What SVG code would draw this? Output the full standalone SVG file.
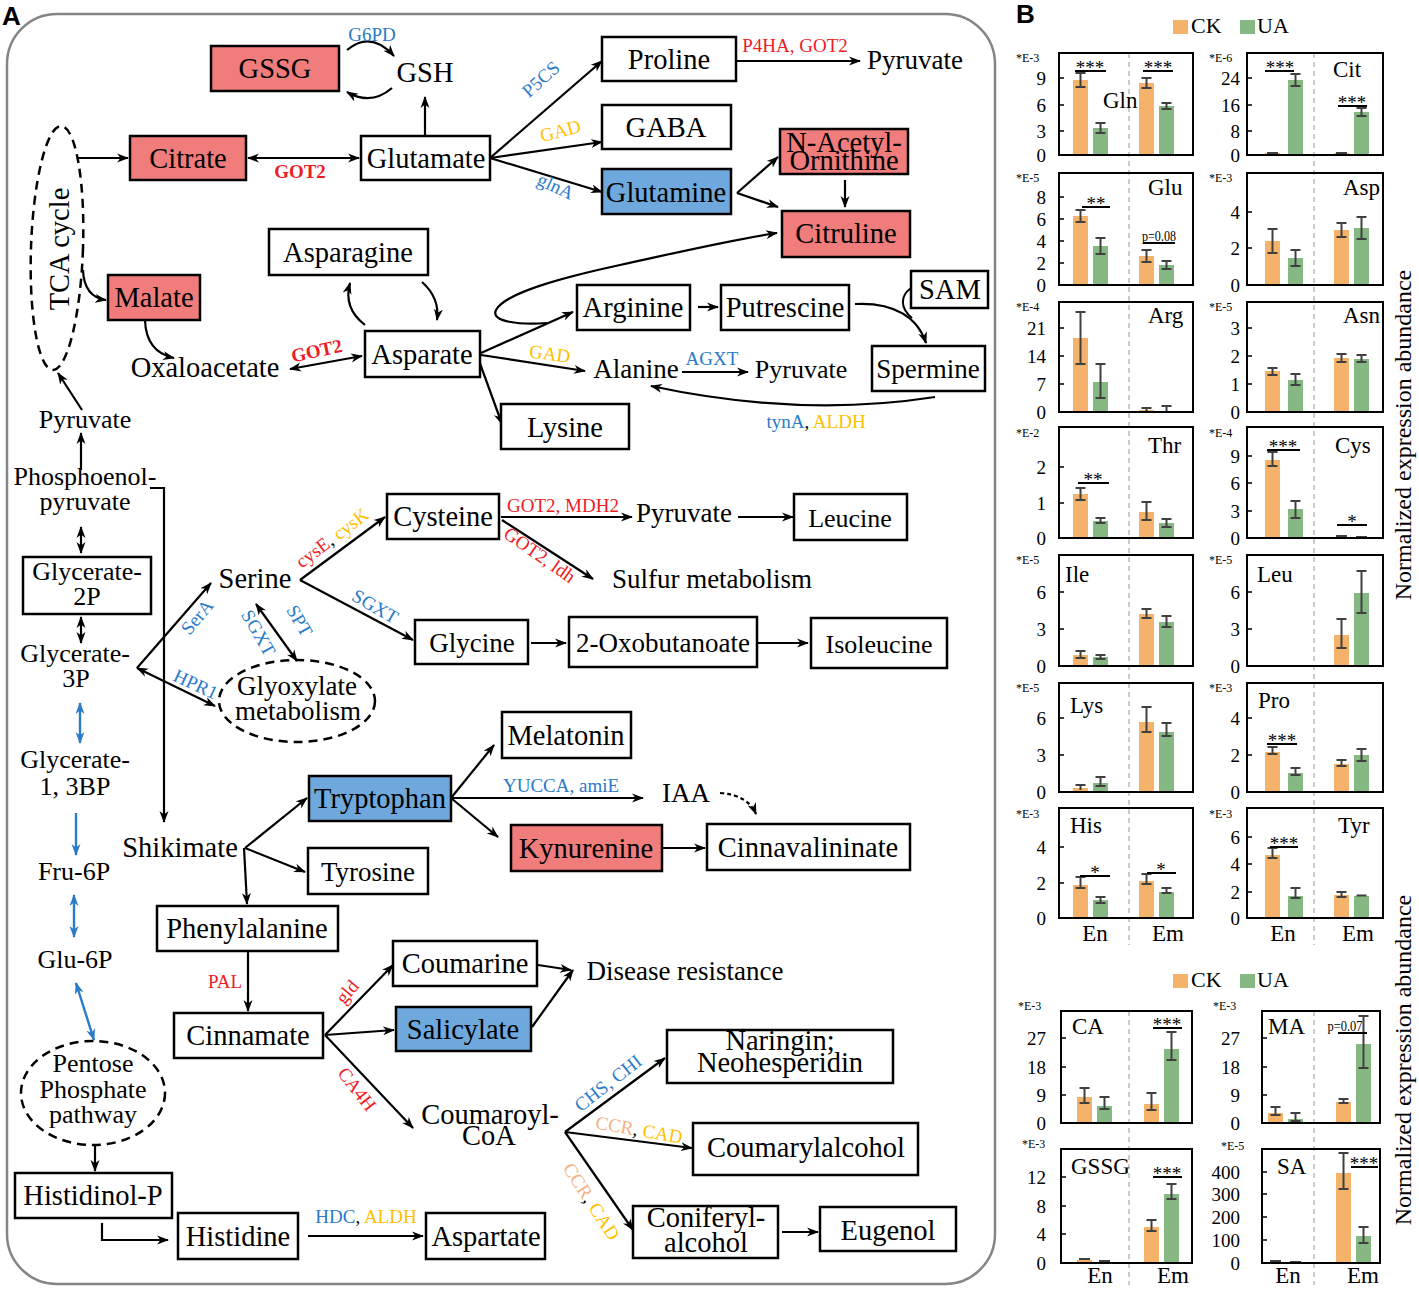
<svg xmlns="http://www.w3.org/2000/svg" width="1419" height="1289" viewBox="0 0 1419 1289">
<style>
text{font-family:"Liberation Serif",serif;fill:#000}
.t{font-size:28.5px;text-anchor:middle}
.m{font-size:27px}
.s{font-size:26px}
.e{font-size:19px;text-anchor:middle}
.n{fill:#fff;stroke:#000;stroke-width:2.5}
.r{fill:#F07C7C;stroke:#000;stroke-width:2.5}
.b{fill:#6FA8DC;stroke:#000;stroke-width:2.5}
.k{fill:none;stroke:#000;stroke-width:2.2;marker-end:url(#a)}
.k2{marker-start:url(#a)}
.kb{fill:none;stroke:#2A7BC8;stroke-width:2.4;marker-end:url(#ab)}
.kb2{marker-start:url(#ab)}
.d{fill:none;stroke:#000;stroke-width:2.5;stroke-dasharray:9 6}
.R{fill:#EE1C25}.B{fill:#2A7BC8}.Y{fill:#FFC000}.O{fill:#F4B183}
.bx{fill:none;stroke:#000;stroke-width:2}
.ck{fill:#F5B26B}.ua{fill:#86B884}
.eb{fill:none;stroke:#404040;stroke-width:2}
.tk{stroke:#000;stroke-width:1.5}
.nb{font-size:19px;text-anchor:end}
.ex{font-size:12px}
.ti{font-size:23px}
.lg{font-size:22px}
.sg{stroke:#000;stroke-width:2}
.st{font-size:19px;text-anchor:middle}
.ax{font-size:23px;text-anchor:middle}
.dv{stroke:#bbb;stroke-width:1.5;stroke-dasharray:5 4}
</style>
<defs>
<marker id="a" viewBox="0 0 12 10" refX="11" refY="5" markerWidth="12" markerHeight="10" markerUnits="userSpaceOnUse" orient="auto-start-reverse"><path d="M0,0.5 L12,5 L0,9.5 L3.5,5 Z" fill="#000"/></marker>
<marker id="ab" viewBox="0 0 12 10" refX="11" refY="5" markerWidth="12" markerHeight="10" markerUnits="userSpaceOnUse" orient="auto-start-reverse"><path d="M0,0.5 L12,5 L0,9.5 L3.5,5 Z" fill="#2A7BC8"/></marker>
</defs>
<rect width="1419" height="1289" fill="#fff"/>
<text x="2" y="25" style="font-family:'Liberation Sans',sans-serif;font-weight:bold;font-size:26px">A</text>
<text x="1016" y="23" style="font-family:'Liberation Sans',sans-serif;font-weight:bold;font-size:26px">B</text>
<rect x="7" y="14" width="988" height="1270" rx="50" fill="none" stroke="#858585" stroke-width="2.5"/>

<g id="connectors">
<path class="k" d="M347,50 Q371,30 394,56"/>
<path class="k" d="M392,88 Q371,106 347,92"/>
<path class="k" d="M425,135 V97"/>
<path class="k k2" d="M248,158 H359"/>
<path class="k" d="M77,158 H128"/>
<path class="k" d="M83,270 Q84,297 106,300"/>
<path class="k" d="M145,320 Q146,352 174,358"/>
<path class="k k2" d="M290,369 L362,356"/>
<path class="k" d="M365,325 Q343,308 350,283"/>
<path class="k" d="M422,282 Q440,298 437,320"/>
<path class="k" d="M82,410 L58,373"/>
<path class="k" d="M81,470 V433"/>
<path class="k" d="M150,488 H164 V822"/>
<path class="k k2" d="M81,527 V553"/>
<path class="k k2" d="M81,617 V643"/>
<path class="kb kb2" d="M80,703 V743"/>
<path class="kb" d="M76,813 V855"/>
<path class="kb kb2" d="M74,895 V937"/>
<path class="kb kb2" d="M76,983 L94,1040"/>
<path class="k" d="M95,1145 V1171"/>
<path class="k" d="M102,1223 V1240 H168"/>
<path class="k" d="M308,1236 H423"/>
<path class="k" d="M137,668 L211,583"/>
<path class="k k2" d="M137,668 L215,706"/>
<path class="k k2" d="M256,604 L297,661"/>
<path class="k" d="M300,580 L385,517"/>
<path class="k" d="M300,580 L413,640"/>
<path class="k" d="M531,643 H566"/>
<path class="k" d="M758,643 H808"/>
<path class="k" d="M501,517 H632"/>
<path class="k" d="M738,517 H793"/>
<path class="k" d="M502,520 L593,579"/>
<path class="k" d="M245,848 L307,798"/>
<path class="k" d="M245,848 L305,872"/>
<path class="k" d="M244,848 L247,904"/>
<path class="k" d="M451,798 L494,745"/>
<path class="k" d="M451,798 H643"/>
<path class="k" d="M451,798 L498,837"/>
<path class="k" style="stroke-dasharray:4 3" d="M720,793 Q748,795 756,814"/>
<path class="k" d="M663,848 H705"/>
<path class="k" d="M248,952 V1011"/>
<path class="k" d="M325,1035 L393,965"/>
<path class="k" d="M325,1035 L394,1030"/>
<path class="k" d="M325,1035 L413,1128"/>
<path class="k" d="M538,965 L571,970"/>
<path class="k" d="M532,1027 L573,970"/>
<path class="k" d="M565,1132 L665,1058"/>
<path class="k" d="M565,1132 L692,1148"/>
<path class="k" d="M565,1132 L633,1230"/>
<path class="k" d="M782,1232 H818"/>
<path class="k" d="M490,158 L602,61"/>
<path class="k" d="M490,158 L602,142"/>
<path class="k" d="M490,158 L602,192"/>
<path class="k" d="M737,61 H860"/>
<path class="k" d="M737,193 L778,157"/>
<path class="k" d="M737,193 L778,207"/>
<path class="k" d="M845,180 V207"/>
<path class="k" d="M547,323 C520,325 490,322 496,310 C505,293 560,278 620,265 C680,252 730,240 777,233"/>
<path class="k" d="M481,353 L573,312"/>
<path class="k" d="M481,355 L585,371"/>
<path class="k" d="M478,358 L502,424"/>
<path class="k" d="M698,307 H718"/>
<path class="k" d="M855,304 C895,302 918,318 926,343"/>
<path fill="none" stroke="#000" stroke-width="2" d="M911,288 C900,296 900,308 912,318"/>
<path class="k" d="M935,397 Q800,418 651,386"/>
<path class="k" d="M682,372 H748"/>
</g>

<g id="labels">
<text class="e B" x="372" y="41">G6PD</text>
<text class="e R" x="300" y="178" style="font-weight:bold">GOT2</text>
<text class="e R" transform="translate(318,357) rotate(-12)" style="font-weight:bold">GOT2</text>
<text class="e B" transform="translate(545,84) rotate(-42)">P5CS</text>
<text class="e Y" transform="translate(562,137) rotate(-15)">GAD</text>
<text class="e B" transform="translate(553,192) rotate(25)">glnA</text>
<text class="e R" x="795" y="52">P4HA, GOT2</text>
<text class="e Y" transform="translate(549,360) rotate(8)">GAD</text>
<text class="e B" x="712" y="365">AGXT</text>
<text class="e" x="816" y="428"><tspan class="B">tynA</tspan>, <tspan class="Y">ALDH</tspan></text>
<text class="e" transform="translate(336,543) rotate(-37)"><tspan class="R">cysE</tspan>, <tspan class="Y">cysK</tspan></text>
<text class="e B" transform="translate(202,621) rotate(-50)">SerA</text>
<text class="e B" transform="translate(193,690) rotate(25)">HPR1</text>
<text class="e B" transform="translate(253,636) rotate(60)">SGXT</text>
<text class="e B" transform="translate(294,624) rotate(60)">SPT</text>
<text class="e B" transform="translate(372,612) rotate(30)">SGXT</text>
<text class="e R" x="563" y="512">GOT2, MDH2</text>
<text class="e R" transform="translate(536,560) rotate(35)">GOT2, ldh</text>
<text class="e B" x="561" y="792">YUCCA, amiE</text>
<text class="e R" x="225" y="988">PAL</text>
<text class="e R" transform="translate(352,996) rotate(-50)">gld</text>
<text class="e R" transform="translate(352,1093) rotate(52)">CA4H</text>
<text class="e" x="366" y="1223"><tspan class="B">HDC</tspan>, <tspan class="Y">ALDH</tspan></text>
<text class="e B" transform="translate(612,1088) rotate(-38)">CHS, CHI</text>
<text class="e" transform="translate(638,1136) rotate(10)"><tspan class="O">CCR</tspan>, <tspan class="Y">CAD</tspan></text>
<text class="e" transform="translate(586,1205) rotate(57)"><tspan class="O">CCR</tspan>, <tspan class="Y">CAD</tspan></text>
</g>

<g id="n-gssg"><rect class="r" x="211" y="46" width="128" height="45"/><text class="t" x="275" y="78">GSSG</text></g>
<g id="n-gsh"><text class="t" x="425" y="82">GSH</text></g>
<g id="n-citrate"><rect class="r" x="130" y="136" width="116" height="44"/><text class="t" x="188" y="168">Citrate</text></g>
<g id="n-glutamate"><rect class="n" x="361" y="136" width="129" height="44"/><text class="t" x="426" y="168">Glutamate</text></g>
<g id="n-tca"><ellipse class="d" cx="57" cy="248" rx="26" ry="122" transform="rotate(2 57 248)"/><text class="t" transform="translate(69,249) rotate(-90)">TCA cycle</text></g>
<g id="n-malate"><rect class="r" x="108" y="275" width="92" height="45"/><text class="t" x="154" y="307">Malate</text></g>
<g id="n-oxaloacetate"><text class="t" x="205" y="377">Oxaloacetate</text></g>
<g id="n-asparagine"><rect class="n" x="269" y="229" width="159" height="46"/><text class="t" x="348" y="262">Asparagine</text></g>
<g id="n-asparate"><rect class="n" x="365" y="331" width="115" height="46"/><text class="t" x="422" y="364">Asparate</text></g>
<g id="n-proline"><rect class="n" x="602" y="37" width="134" height="44"/><text class="t" x="669" y="69">Proline</text></g>
<g id="n-pyruvate1"><text class="t m" x="915" y="69">Pyruvate</text></g>
<g id="n-gaba"><rect class="n" x="602" y="105" width="129" height="44"/><text class="t" x="666" y="137">GABA</text></g>
<g id="n-glutamine"><rect class="b" x="602" y="169" width="129" height="45"/><text class="t" x="666" y="202">Glutamine</text></g>
<g id="n-nacetyl"><rect class="r" x="780" y="129" width="128" height="45"/><text class="t" x="844" y="152">N-Acetyl-</text><text class="t" x="844" y="170">Ornithine</text></g>
<g id="n-citruline"><rect class="r" x="782" y="211" width="128" height="46"/><text class="t" x="846" y="243">Citruline</text></g>
<g id="n-arginine"><rect class="n" x="577" y="285" width="113" height="45"/><text class="t" x="633" y="317">Arginine</text></g>
<g id="n-putrescine"><rect class="n" x="721" y="285" width="128" height="45"/><text class="t" x="785" y="317">Putrescine</text></g>
<g id="n-sam"><rect class="n" x="911" y="271" width="77" height="37"/><text class="t" x="950" y="299">SAM</text></g>
<g id="n-spermine"><rect class="n" x="872" y="346" width="113" height="45"/><text class="t m" x="928" y="378">Spermine</text></g>
<g id="n-alanine"><text class="t m" x="636" y="378">Alanine</text></g>
<g id="n-pyruvate2"><text class="t s" x="801" y="378">Pyruvate</text></g>
<g id="n-lysine"><rect class="n" x="501" y="404" width="128" height="45"/><text class="t" x="565" y="437">Lysine</text></g>
<g id="n-pyruvate0"><text class="t s" x="85" y="428">Pyruvate</text></g>
<g id="n-pep"><text class="t s" x="85" y="485">Phosphoenol-</text><text class="t s" x="85" y="510">pyruvate</text></g>
<g id="n-g2p"><rect class="n" x="23" y="557" width="128" height="57"/><text class="t s" x="87" y="580">Glycerate-</text><text class="t s" x="87" y="605">2P</text></g>
<g id="n-g3p"><text class="t s" x="75" y="662">Glycerate-</text><text class="t s" x="76" y="687">3P</text></g>
<g id="n-g13bp"><text class="t s" x="75" y="768">Glycerate-</text><text class="t s" x="75" y="795">1, 3BP</text></g>
<g id="n-fru6p"><text class="t s" x="74" y="880">Fru-6P</text></g>
<g id="n-glu6p"><text class="t s" x="75" y="968">Glu-6P</text></g>
<g id="n-pentose"><ellipse class="d" cx="93" cy="1093" rx="72" ry="52"/><text class="t s" x="93" y="1072">Pentose</text><text class="t s" x="93" y="1098">Phosphate</text><text class="t s" x="93" y="1123">pathway</text></g>
<g id="n-histidinolp"><rect class="n" x="15" y="1173" width="157" height="45"/><text class="t" x="93" y="1205">Histidinol-P</text></g>
<g id="n-histidine"><rect class="n" x="178" y="1213" width="120" height="46"/><text class="t" x="238" y="1246">Histidine</text></g>
<g id="n-aspartate"><rect class="n" x="426" y="1213" width="119" height="46"/><text class="t" x="486" y="1246">Aspartate</text></g>
<g id="n-serine"><text class="t" x="255" y="588">Serine</text></g>
<g id="n-glyoxylate"><ellipse class="d" cx="297" cy="701" rx="78" ry="41"/><text class="t m" x="297" y="695">Glyoxylate</text><text class="t m" x="298" y="720">metabolism</text></g>
<g id="n-cysteine"><rect class="n" x="387" y="494" width="112" height="45"/><text class="t" x="443" y="526">Cysteine</text></g>
<g id="n-pyruvate3"><text class="t m" x="684" y="522">Pyruvate</text></g>
<g id="n-leucine"><rect class="n" x="794" y="494" width="113" height="46"/><text class="t s" x="850" y="527">Leucine</text></g>
<g id="n-sulfur"><text class="t m" x="712" y="588">Sulfur metabolism</text></g>
<g id="n-glycine"><rect class="n" x="415" y="620" width="113" height="44"/><text class="t m" x="472" y="652">Glycine</text></g>
<g id="n-oxobutanoate"><rect class="n" x="569" y="617" width="188" height="50"/><text class="t m" x="663" y="652">2-Oxobutanoate</text></g>
<g id="n-isoleucine"><rect class="n" x="811" y="618" width="136" height="50"/><text class="t s" x="879" y="653">Isoleucine</text></g>
<g id="n-shikimate"><text class="t" x="180" y="857">Shikimate</text></g>
<g id="n-melatonin"><rect class="n" x="502" y="712" width="129" height="46"/><text class="t" x="566" y="745">Melatonin</text></g>
<g id="n-tryptophan"><rect class="b" x="309" y="776" width="142" height="45"/><text class="t" x="380" y="808">Tryptophan</text></g>
<g id="n-iaa"><text class="t m" x="686" y="802">IAA</text></g>
<g id="n-kynurenine"><rect class="r" x="511" y="825" width="151" height="46"/><text class="t" x="586" y="858">Kynurenine</text></g>
<g id="n-cinnavalininate"><rect class="n" x="707" y="824" width="203" height="46"/><text class="t" x="808" y="857">Cinnavalininate</text></g>
<g id="n-tyrosine"><rect class="n" x="308" y="848" width="120" height="46"/><text class="t m" x="368" y="881">Tyrosine</text></g>
<g id="n-phenylalanine"><rect class="n" x="157" y="906" width="181" height="45"/><text class="t" x="247" y="938">Phenylalanine</text></g>
<g id="n-cinnamate"><rect class="n" x="174" y="1013" width="149" height="45"/><text class="t" x="248" y="1045">Cinnamate</text></g>
<g id="n-coumarine"><rect class="n" x="393" y="941" width="144" height="45"/><text class="t" x="465" y="973">Coumarine</text></g>
<g id="n-salicylate"><rect class="b" x="396" y="1007" width="135" height="44"/><text class="t" x="463" y="1039">Salicylate</text></g>
<g id="n-disease"><text class="t m" x="685" y="980">Disease resistance</text></g>
<g id="n-coumaroyl"><text class="t" x="490" y="1124">Coumaroyl-</text><text class="t" x="489" y="1145">CoA</text></g>
<g id="n-naringin"><rect class="n" x="667" y="1030" width="226" height="53"/><text class="t" x="780" y="1050">Naringin;</text><text class="t" x="780" y="1072">Neohesperidin</text></g>
<g id="n-coumarylalcohol"><rect class="n" x="693" y="1123" width="225" height="52"/><text class="t" x="806" y="1157">Coumarylalcohol</text></g>
<g id="n-coniferyl"><rect class="n" x="633" y="1206" width="145" height="52"/><text class="t" x="706" y="1227">Coniferyl-</text><text class="t" x="706" y="1252">alcohol</text></g>
<g id="n-eugenol"><rect class="n" x="820" y="1207" width="136" height="44"/><text class="t" x="888" y="1240">Eugenol</text></g>

<g id="panel-b">
<g id="legend1"><rect class="ck" x="1173" y="20" width="15" height="14"/><text class="lg" x="1191" y="33">CK</text><rect class="ua" x="1240" y="20" width="15" height="14"/><text class="lg" x="1257" y="33">UA</text></g>
<g id="legend2"><rect class="ck" x="1173" y="974" width="15" height="14"/><text class="lg" x="1191" y="987">CK</text><rect class="ua" x="1240" y="974" width="15" height="14"/><text class="lg" x="1257" y="987">UA</text></g>
<line class="dv" x1="1129" y1="53" x2="1129" y2="945"/>
<line class="dv" x1="1314" y1="53" x2="1314" y2="945"/>
<line class="dv" x1="1129" y1="1011" x2="1129" y2="1285"/>
<line class="dv" x1="1314" y1="1011" x2="1314" y2="1285"/>
<text style="font-size:24px;text-anchor:middle" transform="translate(1411,435) rotate(-90)">Normalized expression abundance</text>
<text style="font-size:24px;text-anchor:middle" transform="translate(1411,1060) rotate(-90)">Normalized expression abundance</text>

<g id="c-gln">
<rect class="ck" x="1073" y="80" width="15" height="75"/><rect class="ua" x="1093" y="128" width="15" height="27"/><rect class="ck" x="1139" y="83" width="15" height="72"/><rect class="ua" x="1159" y="106" width="15" height="49"/>
<path class="eb" d="M1080.5,73V87M1075.5,73h10M1075.5,87h10M1100.5,123V133M1095.5,123h10M1095.5,133h10M1146.5,78V88M1141.5,78h10M1141.5,88h10M1166.5,103V109M1161.5,103h10M1161.5,109h10"/>
<rect class="bx" x="1059" y="53" width="134" height="102"/>
<path class="tk" d="M1059,78h5M1059,105h5M1059,131h5"/>
<text class="nb" x="1046" y="85">9</text><text class="nb" x="1046" y="112">6</text><text class="nb" x="1046" y="138">3</text><text class="nb" x="1046" y="162">0</text>
<text class="ex" x="1016" y="62">*E-3</text><text class="ti" x="1103" y="108">Gln</text>
<path class="sg" d="M1075,71H1106M1143,71H1173"/><text class="st" x="1090" y="74">***</text><text class="st" x="1158" y="74">***</text>
</g>
<g id="c-cit">
<rect class="ck" x="1265" y="153" width="15" height="2"/><rect class="ua" x="1288" y="80" width="15" height="75"/><rect class="ck" x="1334" y="153" width="15" height="2"/><rect class="ua" x="1354" y="112" width="15" height="43"/>
<path class="eb" d="M1267,153h11M1336,153h11M1295.5,74V86M1290.5,74h10M1290.5,86h10M1361.5,108V116M1356.5,108h10M1356.5,116h10"/>
<rect class="bx" x="1247" y="53" width="136" height="102"/>
<path class="tk" d="M1247,78h5M1247,105h5M1247,131h5"/>
<text class="nb" x="1240" y="85">24</text><text class="nb" x="1240" y="112">16</text><text class="nb" x="1240" y="138">8</text><text class="nb" x="1240" y="162">0</text>
<text class="ex" x="1209" y="62">*E-6</text><text class="ti" x="1333" y="77">Cit</text>
<path class="sg" d="M1265,71H1294M1338,106H1367"/><text class="st" x="1280" y="74">***</text><text class="st" x="1352" y="109">***</text>
</g>
<g id="c-glu">
<rect class="ck" x="1073" y="216" width="15" height="69"/><rect class="ua" x="1093" y="246" width="15" height="39"/><rect class="ck" x="1139" y="256" width="15" height="29"/><rect class="ua" x="1159" y="265" width="15" height="20"/>
<path class="eb" d="M1080.5,210V222M1075.5,210h10M1075.5,222h10M1100.5,238V254M1095.5,238h10M1095.5,254h10M1146.5,250V262M1141.5,250h10M1141.5,262h10M1166.5,261V269M1161.5,261h10M1161.5,269h10"/>
<rect class="bx" x="1059" y="173" width="134" height="112"/>
<path class="tk" d="M1059,197h5M1059,219h5M1059,241h5M1059,263h5"/>
<text class="nb" x="1046" y="204">8</text><text class="nb" x="1046" y="226">6</text><text class="nb" x="1046" y="248">4</text><text class="nb" x="1046" y="270">2</text><text class="nb" x="1046" y="292">0</text>
<text class="ex" x="1016" y="182">*E-5</text><text class="ti" x="1148" y="195">Glu</text>
<path class="sg" d="M1082,207H1110M1143,243H1175"/><text class="st" x="1096" y="210">**</text>
<text x="1159" y="241" style="font-size:15px;text-anchor:middle" textLength="34" lengthAdjust="spacingAndGlyphs">p=0.08</text>
</g>
<g id="c-asp">
<rect class="ck" x="1265" y="241" width="15" height="44"/><rect class="ua" x="1288" y="258" width="15" height="27"/><rect class="ck" x="1334" y="230" width="15" height="55"/><rect class="ua" x="1354" y="228" width="15" height="57"/>
<path class="eb" d="M1272.5,229V253M1267.5,229h10M1267.5,253h10M1295.5,250V266M1290.5,250h10M1290.5,266h10M1341.5,223V237M1336.5,223h10M1336.5,237h10M1361.5,217V239M1356.5,217h10M1356.5,239h10"/>
<rect class="bx" x="1247" y="173" width="136" height="112"/>
<path class="tk" d="M1247,212h5M1247,248h5"/>
<text class="nb" x="1240" y="219">4</text><text class="nb" x="1240" y="255">2</text><text class="nb" x="1240" y="292">0</text>
<text class="ex" x="1209" y="182">*E-3</text><text class="ti" x="1343" y="195">Asp</text>
</g>
<g id="c-arg">
<rect class="ck" x="1073" y="338" width="15" height="74"/><rect class="ua" x="1093" y="382" width="15" height="30"/><rect class="ck" x="1139" y="410" width="15" height="2"/><rect class="ua" x="1159" y="411" width="15" height="1"/>
<path class="eb" d="M1080.5,312V364M1075.5,312h10M1075.5,364h10M1100.5,364V398M1095.5,364h10M1095.5,398h10M1146.5,408V412M1141.5,408h10M1166.5,406V412M1161.5,406h10"/>
<rect class="bx" x="1059" y="302" width="134" height="110"/>
<path class="tk" d="M1059,328h5M1059,356h5M1059,384h5"/>
<text class="nb" x="1046" y="335">21</text><text class="nb" x="1046" y="363">14</text><text class="nb" x="1046" y="391">7</text><text class="nb" x="1046" y="419">0</text>
<text class="ex" x="1016" y="311">*E-4</text><text class="ti" x="1148" y="323">Arg</text>
</g>
<g id="c-asn">
<rect class="ck" x="1265" y="371" width="15" height="41"/><rect class="ua" x="1288" y="380" width="15" height="32"/><rect class="ck" x="1334" y="358" width="15" height="54"/><rect class="ua" x="1354" y="359" width="15" height="53"/>
<path class="eb" d="M1272.5,368V375M1267.5,368h10M1267.5,375h10M1295.5,374V385M1290.5,374h10M1290.5,385h10M1341.5,354V362M1336.5,354h10M1336.5,362h10M1361.5,355V362M1356.5,355h10M1356.5,362h10"/>
<rect class="bx" x="1247" y="302" width="136" height="110"/>
<path class="tk" d="M1247,328h5M1247,356h5M1247,384h5"/>
<text class="nb" x="1240" y="335">3</text><text class="nb" x="1240" y="363">2</text><text class="nb" x="1240" y="391">1</text><text class="nb" x="1240" y="419">0</text>
<text class="ex" x="1209" y="311">*E-5</text><text class="ti" x="1343" y="323">Asn</text>
</g>
<g id="c-thr">
<rect class="ck" x="1073" y="494" width="15" height="44"/><rect class="ua" x="1093" y="521" width="15" height="17"/><rect class="ck" x="1139" y="512" width="15" height="26"/><rect class="ua" x="1159" y="523" width="15" height="15"/>
<path class="eb" d="M1080.5,488V500M1075.5,488h10M1075.5,500h10M1100.5,518V523M1095.5,518h10M1095.5,523h10M1146.5,502V520M1141.5,502h10M1141.5,520h10M1166.5,519V527M1161.5,519h10M1161.5,527h10"/>
<rect class="bx" x="1059" y="427" width="134" height="111"/>
<path class="tk" d="M1059,467h5M1059,503h5"/>
<text class="nb" x="1046" y="474">2</text><text class="nb" x="1046" y="510">1</text><text class="nb" x="1046" y="545">0</text>
<text class="ex" x="1016" y="437">*E-2</text><text class="ti" x="1148" y="453">Thr</text>
<path class="sg" d="M1078,483H1109"/><text class="st" x="1093" y="486">**</text>
</g>
<g id="c-cys">
<rect class="ck" x="1265" y="460" width="15" height="78"/><rect class="ua" x="1288" y="509" width="15" height="29"/>
<path class="eb" d="M1272.5,452V466M1267.5,452h10M1267.5,466h10M1295.5,501V518M1290.5,501h10M1290.5,518h10M1336,536h11M1356,537h11"/>
<rect class="bx" x="1247" y="427" width="136" height="111"/>
<path class="tk" d="M1247,456h5M1247,483h5M1247,511h5"/>
<text class="nb" x="1240" y="463">9</text><text class="nb" x="1240" y="490">6</text><text class="nb" x="1240" y="518">3</text><text class="nb" x="1240" y="545">0</text>
<text class="ex" x="1209" y="437">*E-4</text><text class="ti" x="1335" y="453">Cys</text>
<path class="sg" d="M1267,450H1300M1337,525H1367"/><text class="st" x="1283" y="453">***</text><text class="st" x="1352" y="528">*</text>
</g>
<g id="c-ile">
<rect class="ck" x="1073" y="655" width="15" height="11"/><rect class="ua" x="1093" y="657" width="15" height="9"/><rect class="ck" x="1139" y="614" width="15" height="52"/><rect class="ua" x="1159" y="622" width="15" height="44"/>
<path class="eb" d="M1080.5,651V658M1075.5,651h10M1075.5,658h10M1100.5,655V659M1095.5,655h10M1095.5,659h10M1146.5,609V618M1141.5,609h10M1141.5,618h10M1166.5,616V627M1161.5,616h10M1161.5,627h10"/>
<rect class="bx" x="1059" y="555" width="134" height="111"/>
<path class="tk" d="M1059,592h5M1059,629h5"/>
<text class="nb" x="1046" y="599">6</text><text class="nb" x="1046" y="636">3</text><text class="nb" x="1046" y="673">0</text>
<text class="ex" x="1016" y="564">*E-5</text><text class="ti" x="1065" y="582">Ile</text>
</g>
<g id="c-leu">
<rect class="ck" x="1334" y="635" width="15" height="31"/><rect class="ua" x="1354" y="593" width="15" height="73"/>
<path class="eb" d="M1341.5,619V648M1336.5,619h10M1336.5,648h10M1361.5,571V613M1356.5,571h10M1356.5,613h10"/>
<rect class="bx" x="1247" y="555" width="136" height="111"/>
<path class="tk" d="M1247,592h5M1247,629h5"/>
<text class="nb" x="1240" y="599">6</text><text class="nb" x="1240" y="636">3</text><text class="nb" x="1240" y="673">0</text>
<text class="ex" x="1209" y="564">*E-5</text><text class="ti" x="1257" y="582">Leu</text>
</g>
<g id="c-lys">
<rect class="ck" x="1073" y="788" width="15" height="4"/><rect class="ua" x="1093" y="783" width="15" height="9"/><rect class="ck" x="1139" y="722" width="15" height="70"/><rect class="ua" x="1159" y="732" width="15" height="60"/>
<path class="eb" d="M1080.5,785V790M1075.5,785h10M1100.5,777V786M1095.5,777h10M1095.5,786h10M1146.5,707V732M1141.5,707h10M1141.5,732h10M1166.5,723V736M1161.5,723h10M1161.5,736h10"/>
<rect class="bx" x="1059" y="683" width="134" height="109"/>
<path class="tk" d="M1059,718h5M1059,755h5"/>
<text class="nb" x="1046" y="725">6</text><text class="nb" x="1046" y="762">3</text><text class="nb" x="1046" y="799">0</text>
<text class="ex" x="1016" y="692">*E-5</text><text class="ti" x="1070" y="713">Lys</text>
</g>
<g id="c-pro">
<rect class="ck" x="1265" y="752" width="15" height="40"/><rect class="ua" x="1288" y="773" width="15" height="19"/><rect class="ck" x="1334" y="764" width="15" height="28"/><rect class="ua" x="1354" y="755" width="15" height="37"/>
<path class="eb" d="M1272.5,747V754M1267.5,747h10M1267.5,754h10M1295.5,768V775M1290.5,768h10M1290.5,775h10M1341.5,760V766M1336.5,760h10M1336.5,766h10M1361.5,749V761M1356.5,749h10M1356.5,761h10"/>
<rect class="bx" x="1247" y="683" width="136" height="109"/>
<path class="tk" d="M1247,718h5M1247,755h5"/>
<text class="nb" x="1240" y="725">4</text><text class="nb" x="1240" y="762">2</text><text class="nb" x="1240" y="799">0</text>
<text class="ex" x="1209" y="692">*E-3</text><text class="ti" x="1258" y="708">Pro</text>
<path class="sg" d="M1267,744H1297"/><text class="st" x="1282" y="747">***</text>
</g>
<g id="c-his">
<rect class="ck" x="1073" y="885" width="15" height="33"/><rect class="ua" x="1093" y="900" width="15" height="18"/><rect class="ck" x="1139" y="881" width="15" height="37"/><rect class="ua" x="1159" y="892" width="15" height="26"/>
<path class="eb" d="M1080.5,877V888M1075.5,877h10M1075.5,888h10M1100.5,897V903M1095.5,897h10M1095.5,903h10M1146.5,874V884M1141.5,874h10M1141.5,884h10M1166.5,888V893M1161.5,888h10M1161.5,893h10"/>
<rect class="bx" x="1059" y="808" width="134" height="110"/>
<path class="tk" d="M1059,847h5M1059,883h5"/>
<text class="nb" x="1046" y="854">4</text><text class="nb" x="1046" y="890">2</text><text class="nb" x="1046" y="925">0</text>
<text class="ex" x="1016" y="818">*E-3</text><text class="ti" x="1070" y="833">His</text>
<path class="sg" d="M1080,876H1110M1147,873H1176"/><text class="st" x="1095" y="879">*</text><text class="st" x="1161" y="876">*</text>
<text class="ax" x="1095" y="941">En</text><text class="ax" x="1168" y="941">Em</text>
</g>
<g id="c-tyr">
<rect class="ck" x="1265" y="855" width="15" height="63"/><rect class="ua" x="1288" y="896" width="15" height="22"/><rect class="ck" x="1334" y="895" width="15" height="23"/><rect class="ua" x="1354" y="896" width="15" height="22"/>
<path class="eb" d="M1272.5,848V858M1267.5,848h10M1267.5,858h10M1295.5,888V898M1290.5,888h10M1290.5,898h10M1341.5,892V897M1336.5,892h10M1336.5,897h10M1356.5,895.5h10"/>
<rect class="bx" x="1247" y="808" width="136" height="110"/>
<path class="tk" d="M1247,837h5M1247,864h5M1247,892h5"/>
<text class="nb" x="1240" y="844">6</text><text class="nb" x="1240" y="871">4</text><text class="nb" x="1240" y="899">2</text><text class="nb" x="1240" y="925">0</text>
<text class="ex" x="1209" y="818">*E-3</text><text class="ti" x="1338" y="833">Tyr</text>
<path class="sg" d="M1270,847H1298"/><text class="st" x="1284" y="850">***</text>
<text class="ax" x="1283" y="941">En</text><text class="ax" x="1358" y="941">Em</text>
</g>
<g id="c-ca">
<rect class="ck" x="1077" y="1097" width="15" height="26"/><rect class="ua" x="1097" y="1106" width="15" height="17"/><rect class="ck" x="1144" y="1104" width="15" height="19"/><rect class="ua" x="1164" y="1049" width="15" height="74"/>
<path class="eb" d="M1084.5,1088V1103M1079.5,1088h10M1079.5,1103h10M1104.5,1097V1109M1099.5,1097h10M1099.5,1109h10M1151.5,1093V1110M1146.5,1093h10M1146.5,1110h10M1171.5,1032V1060M1166.5,1032h10M1166.5,1060h10"/>
<rect class="bx" x="1061" y="1011" width="131" height="112"/>
<path class="tk" d="M1061,1038h5M1061,1067h5M1061,1095h5"/>
<text class="nb" x="1046" y="1045">27</text><text class="nb" x="1046" y="1074">18</text><text class="nb" x="1046" y="1102">9</text><text class="nb" x="1046" y="1130">0</text>
<text class="ex" x="1018" y="1010">*E-3</text><text class="ti" x="1072" y="1034">CA</text>
<path class="sg" d="M1153,1028H1182"/><text class="st" x="1167" y="1031">***</text>
</g>
<g id="c-ma">
<rect class="ck" x="1268" y="1113" width="15" height="10"/><rect class="ua" x="1288" y="1119" width="15" height="4"/><rect class="ck" x="1336" y="1102" width="15" height="21"/><rect class="ua" x="1356" y="1044" width="15" height="79"/>
<path class="eb" d="M1275.5,1107V1115M1270.5,1107h10M1270.5,1115h10M1295.5,1113V1121M1290.5,1113h10M1290.5,1121h10M1343.5,1099V1103M1338.5,1099h10M1338.5,1103h10M1363.5,1016V1068M1358.5,1016h10M1358.5,1068h10"/>
<rect class="bx" x="1262" y="1011" width="118" height="112"/>
<path class="tk" d="M1262,1038h5M1262,1067h5M1262,1095h5"/>
<text class="nb" x="1240" y="1045">27</text><text class="nb" x="1240" y="1074">18</text><text class="nb" x="1240" y="1102">9</text><text class="nb" x="1240" y="1130">0</text>
<text class="ex" x="1213" y="1010">*E-3</text><text class="ti" x="1268" y="1034">MA</text>
<path class="sg" d="M1338,1033H1367"/><text x="1345" y="1031" style="font-size:15px;text-anchor:middle" textLength="35" lengthAdjust="spacingAndGlyphs">p=0.07</text>
</g>
<g id="c-gssg">
<rect class="ck" x="1077" y="1260" width="15" height="3"/><rect class="ck" x="1144" y="1227" width="15" height="36"/><rect class="ua" x="1164" y="1194" width="15" height="69"/>
<path class="eb" d="M1079,1259h11M1099,1261h11M1151.5,1220V1231M1146.5,1220h10M1146.5,1231h10M1171.5,1184V1199M1166.5,1184h10M1166.5,1199h10"/>
<rect class="bx" x="1061" y="1149" width="131" height="114"/>
<path class="tk" d="M1061,1177h5M1061,1206h5M1061,1234h5"/>
<text class="nb" x="1046" y="1184">12</text><text class="nb" x="1046" y="1213">8</text><text class="nb" x="1046" y="1241">4</text><text class="nb" x="1046" y="1270">0</text>
<text class="ex" x="1022" y="1148">*E-3</text><text class="ti" x="1071" y="1174">GSSG</text>
<path class="sg" d="M1153,1177H1182"/><text class="st" x="1167" y="1180">***</text>
<text class="ax" x="1100" y="1283">En</text><text class="ax" x="1173" y="1283">Em</text>
</g>
<g id="c-sa">
<rect class="ck" x="1336" y="1173" width="15" height="90"/><rect class="ua" x="1356" y="1236" width="15" height="27"/>
<path class="eb" d="M1270,1261h11M1290,1262h11M1343.5,1153V1189M1338.5,1153h10M1338.5,1189h10M1363.5,1227V1243M1358.5,1227h10M1358.5,1243h10"/>
<rect class="bx" x="1262" y="1149" width="118" height="114"/>
<path class="tk" d="M1262,1172h5M1262,1194h5M1262,1217h5M1262,1240h5"/>
<text class="nb" x="1240" y="1179">400</text><text class="nb" x="1240" y="1201">300</text><text class="nb" x="1240" y="1224">200</text><text class="nb" x="1240" y="1247">100</text><text class="nb" x="1240" y="1270">0</text>
<text class="ex" x="1221" y="1150">*E-5</text><text class="ti" x="1277" y="1174">SA</text>
<path class="sg" d="M1351,1167H1378"/><text class="st" x="1364" y="1170">***</text>
<text class="ax" x="1288" y="1283">En</text><text class="ax" x="1363" y="1283">Em</text>
</g>
</g>
</svg>
